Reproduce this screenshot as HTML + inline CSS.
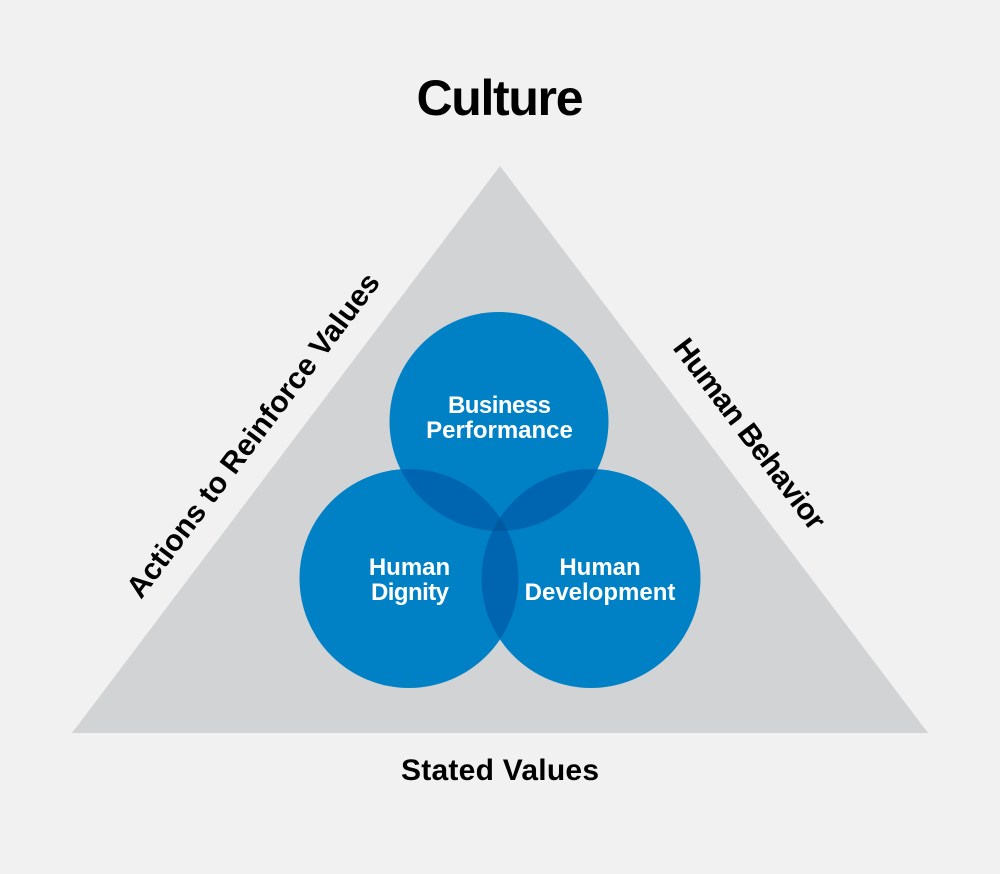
<!DOCTYPE html>
<html>
<head>
<meta charset="utf-8">
<style>
html,body{margin:0;padding:0;background:#f1f1f1}
svg{display:block}
text{font-family:"Liberation Sans",Arial,sans-serif;font-weight:bold}
</style>
</head>
<body>
<svg width="1000" height="874" viewBox="0 0 1000 874" xmlns="http://www.w3.org/2000/svg">
<rect width="1000" height="874" fill="#f1f1f1"/>
<polygon points="500,166 928,733 72,733" fill="#d1d3d4"/>
<circle cx="499" cy="421.5" r="109.5" fill="#0081c6"/>
<circle cx="409" cy="578.5" r="109.5" fill="#0081c6"/>
<circle cx="591" cy="578.5" r="109.5" fill="#0081c6"/>
<defs>
<clipPath id="t"><circle cx="499" cy="421.5" r="109.5"/></clipPath>
<clipPath id="l"><circle cx="409" cy="578.5" r="109.5"/></clipPath>
</defs>
<circle cx="409" cy="578.5" r="109.5" fill="#0065b0" clip-path="url(#t)"/>
<circle cx="591" cy="578.5" r="109.5" fill="#0065b0" clip-path="url(#t)"/>
<circle cx="591" cy="578.5" r="109.5" fill="#0065b0" clip-path="url(#l)"/>
<g clip-path="url(#t)"><circle cx="591" cy="578.5" r="109.5" fill="#00589f" clip-path="url(#l)"/></g>
<g fill="#000">
<text x="500" y="115" font-size="50" text-anchor="middle" textLength="167" lengthAdjust="spacing">Culture</text>
<text x="500" y="780" font-size="30" text-anchor="middle" textLength="198" lengthAdjust="spacing">Stated Values</text>
<text transform="translate(141,600) rotate(-52.9)" font-size="30" textLength="398" lengthAdjust="spacing">Actions to Reinforce Values</text>
<text transform="translate(672,348) rotate(52.9)" font-size="30" textLength="231" lengthAdjust="spacing">Human Behavior</text>
</g>
<g fill="#fff" font-size="24" text-anchor="middle">
<text x="499.5" y="413" textLength="103" lengthAdjust="spacing">Business</text>
<text x="499.5" y="438">Performance</text>
<text x="409.5" y="575">Human</text>
<text x="410" y="600" textLength="78" lengthAdjust="spacing">Dignity</text>
<text x="600" y="575">Human</text>
<text x="600" y="600">Development</text>
</g>
</svg>
</body>
</html>
